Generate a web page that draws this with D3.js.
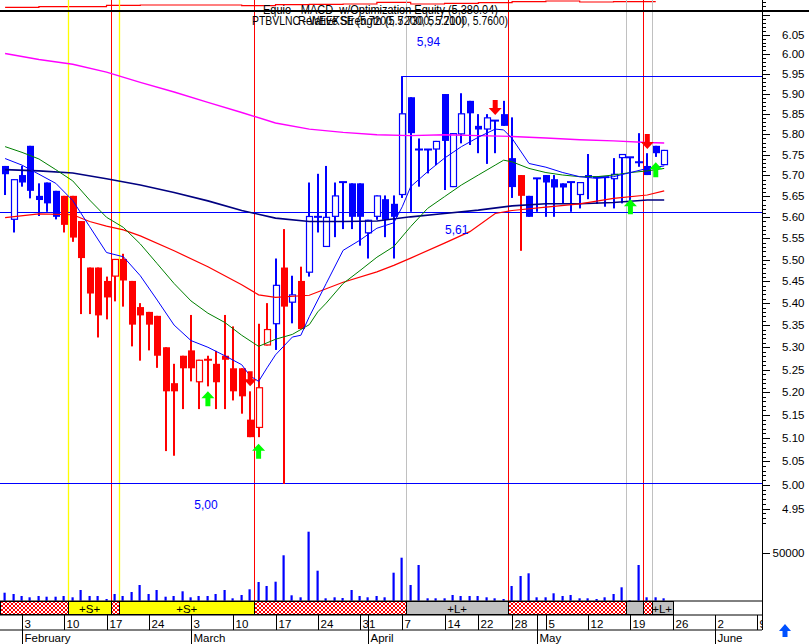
<!DOCTYPE html>
<html><head><meta charset="utf-8">
<script src="https://cdn.jsdelivr.net/npm/d3@7"></script>
<style>
html,body{margin:0;padding:0;background:#fff;}
svg{display:block;}
text{font-family:"Liberation Sans",Arial,sans-serif;}
</style>
</head><body>
<svg id="c" width="809" height="644"></svg>
<script>
// ---------------- DATA ----------------
const holidays = ["2003-04-18", "2003-04-21", "2003-05-01"];
const firstDay = [2003, 0, 30], lastDay = [2003, 5, 11];
const monthNames = ["January","February","March","April","May","June","July"];

const open  = [5.723,5.594,5.701,5.772,5.651,5.683,5.663,5.651,5.651,5.591,5.482,5.482,5.451,5.461,5.502,5.451,5.391,5.380,5.371,5.300,5.220,5.281,5.293,5.222,5.272,5.263,5.281,5.253,5.253,5.140,5.122,5.304,5.352,5.482,5.401,5.451,5.470,5.601,5.530,5.601,5.684,5.681,5.681,5.562,5.601,5.643,5.632,5.653,5.892,5.763,5.763,5.763,5.900,5.672,5.800,5.883,5.821,5.812,5.834,5.850,5.742,5.701,5.651,5.693,5.701,5.691,5.681,5.684,5.653,5.701,5.696,5.696,5.691,5.742,5.744,5.732,5.723,5.772,5.725];
const high  = [5.723,5.691,5.723,5.772,5.681,5.683,5.663,5.651,5.651,5.591,5.482,5.482,5.461,5.502,5.514,5.451,5.400,5.380,5.371,5.300,5.263,5.281,5.373,5.272,5.281,5.292,5.373,5.347,5.253,5.202,5.353,5.400,5.503,5.572,5.463,5.484,5.683,5.704,5.723,5.683,5.684,5.681,5.681,5.594,5.652,5.652,5.652,5.945,5.892,5.790,5.763,5.784,5.900,5.803,5.902,5.883,5.850,5.850,5.834,5.883,5.842,5.701,5.651,5.693,5.701,5.701,5.681,5.684,5.684,5.752,5.696,5.696,5.742,5.752,5.744,5.803,5.754,5.772,5.762];
const low   = [5.653,5.564,5.673,5.645,5.603,5.613,5.595,5.564,5.542,5.375,5.375,5.322,5.363,5.404,5.392,5.302,5.270,5.293,5.254,5.072,5.062,5.163,5.224,5.163,5.213,5.163,5.163,5.182,5.153,5.102,5.102,5.304,5.294,5.002,5.354,5.341,5.461,5.564,5.530,5.553,5.572,5.572,5.533,5.503,5.594,5.553,5.503,5.646,5.613,5.673,5.705,5.725,5.665,5.672,5.778,5.774,5.754,5.728,5.754,5.821,5.646,5.521,5.601,5.613,5.601,5.601,5.632,5.613,5.621,5.643,5.632,5.625,5.621,5.633,5.633,5.721,5.701,5.745,5.725];
const close = [5.703,5.691,5.683,5.663,5.641,5.633,5.601,5.582,5.552,5.504,5.422,5.372,5.413,5.502,5.452,5.351,5.372,5.351,5.281,5.202,5.202,5.253,5.253,5.272,5.272,5.222,5.272,5.202,5.191,5.102,5.211,5.341,5.442,5.392,5.420,5.341,5.603,5.601,5.601,5.652,5.684,5.601,5.601,5.594,5.652,5.594,5.601,5.852,5.803,5.763,5.763,5.784,5.784,5.803,5.852,5.852,5.812,5.842,5.834,5.821,5.672,5.651,5.601,5.693,5.683,5.671,5.671,5.684,5.684,5.695,5.696,5.696,5.704,5.752,5.744,5.732,5.701,5.754,5.762];
const volume = [8440,7070,4960,3590,4960,4220,4220,4960,3590,11290,4960,4960,1790,7070,4960,9180,16560,7070,11290,4220,4960,9920,3590,4960,4960,7070,11290,2530,6010,12030,19730,15510,20050,47900,5700,3590,72800,31650,2530,3590,2850,11290,4960,3590,4960,3590,29540,45370,16560,37660,2530,2530,2530,6010,4960,4960,4960,3590,2530,1790,15510,26060,28910,3590,3590,7810,4960,6010,2530,2530,1790,3590,7070,14140,740,37660,3590,3590,2530];
// bars drawn in the "short" (red) colour
const redBars = [7,8,9,10,11,12,13,14,15,16,17,18,19,20,21,22,23,24,25,26,27,28,29,30,31,33,35,61];

// moving averages: [bar index, value]
const ma200 = [[0,6.002],[4,5.987],[8,5.975],[12,5.955],[16,5.929],[20,5.905],[24,5.879],[28,5.854],[32,5.828],[36,5.813],[40,5.805],[44,5.799],[48,5.797],[52,5.799],[56,5.797],[60,5.795],[64,5.791],[68,5.787],[72,5.784],[76,5.780],[78,5.779]];
const ma50  = [[0,5.714],[4,5.711],[8,5.706],[12,5.692],[16,5.677],[20,5.659],[24,5.639],[28,5.616],[32,5.598],[36,5.590],[40,5.590],[44,5.591],[48,5.601],[52,5.609],[56,5.617],[60,5.627],[64,5.632],[68,5.632],[72,5.635],[76,5.641],[78,5.641]];
const ma30  = [[0,5.599],[4,5.608],[8,5.606],[10,5.590],[12,5.579],[14,5.570],[16,5.556],[20,5.521],[24,5.484],[28,5.442],[30,5.419],[32,5.413],[36,5.418],[40,5.448],[44,5.472],[46,5.487],[48,5.504],[52,5.539],[55,5.566],[58,5.609],[60,5.616],[64,5.624],[68,5.632],[72,5.645],[76,5.653],[78,5.663]];
const ma20  = [[0,5.770],[2,5.756],[4,5.740],[6,5.714],[8,5.687],[10,5.641],[12,5.600],[14,5.576],[16,5.537],[18,5.491],[20,5.445],[22,5.405],[24,5.377],[26,5.356],[28,5.327],[30,5.302],[32,5.318],[34,5.329],[36,5.351],[37,5.380],[38,5.400],[40,5.445],[42,5.475],[44,5.506],[46,5.531],[48,5.578],[50,5.621],[52,5.649],[54,5.677],[56,5.701],[58,5.725],[59,5.737],[60,5.733],[62,5.717],[64,5.707],[66,5.701],[68,5.697],[70,5.697],[72,5.701],[74,5.707],[76,5.711],[78,5.717]];
const ma10  = [[0,5.741],[2,5.725],[4,5.703],[6,5.681],[8,5.640],[10,5.578],[12,5.517],[14,5.507],[16,5.463],[18,5.407],[20,5.350],[22,5.315],[24,5.300],[26,5.281],[28,5.261],[29,5.236],[30,5.224],[31,5.254],[32,5.283],[34,5.323],[35,5.327],[36,5.369],[38,5.445],[40,5.522],[42,5.546],[44,5.574],[46,5.587],[47,5.625],[48,5.673],[50,5.709],[52,5.742],[54,5.770],[56,5.793],[58,5.813],[59,5.811],[60,5.790],[62,5.729],[64,5.720],[66,5.707],[68,5.697],[70,5.693],[72,5.697],[74,5.707],[76,5.717],[78,5.723]];

// optimisation equity (top strip)
const equity = [[0,5057],[4,5091],[8,5091],[12,5173],[16,5190],[20,5190],[24,5190],[28,5149],[32,5207],[36,5231],[40,5248],[44,5347],[48,5248],[52,5289],[56,5323],[60,5381],[64,5422],[68,5364],[72,5380],[77,5380]];

// study lines
const levelValues = [5.945, 5.612, 5.004];
const levelFrom   = [47, -1, -1];
const levelLabels = ["5,94", "5,61", "5,00"];

// signal arrows: [bar, tip price]
const upArrows   = [[24,5.202],[30,5.088],[74,5.643],[77,5.732]];
const downArrows = [[29,5.213],[58,5.848],[76,5.764]];

// signal vertical lines (at the start of the bar)
const yellowLines = [8, 14];
const redLines    = [13, 30, 60, 76];
const grayLines   = [48, 74, 77];

// trade state ribbon: [state, fromBar, toBar]
const ribbon = [["x",-1,8],["S",8,13],["x",13,14],["S",14,30],["x",30,48],["L",48,60],["x",60,74],["G",74,76],["x",76,77],["L",77,79.5]];

const titleEquity = "Equio - MACD_w/Optimization Equity (5,380.04)";
const titlePrice  = "PTBVLNC - WEEKSE (5.7200, 5.7300, 5.7100, 5.7600)";
const titleRS     = "Relative Strength (5.7200, 5.7200)";

// ---------------- BUILD ----------------
const days = [];
for (let d = new Date(Date.UTC(...firstDay)); d <= new Date(Date.UTC(...lastDay)); d.setUTCDate(d.getUTCDate() + 1)) {
  const wd = d.getUTCDay(), s = d.toISOString().slice(0, 10);
  if (wd > 0 && wd < 6 && !holidays.includes(s)) days.push(new Date(d));
}

const W = 809, H = 644, AX = 762;
const svg = d3.select("#c");
svg.append("rect").attr("width", W).attr("height", H).attr("fill", "#fff");

const x = d3.scaleLinear().domain([0, 89]).range([5.1, 757.15]);
const y = d3.scaleLog().domain([4.762, 6.1397]).range([600, 0]);
const yv = d3.scaleLinear().domain([0, 50000]).range([600.7, 553.3]);
const ye = d3.scaleLinear().domain([4900, 5480]).range([10, 0]);
const edge = k => Math.max(0, x(k - 0.5));

const defs = svg.append("defs");
defs.append("clipPath").attr("id", "plot").append("rect").attr("x", 0).attr("y", 0).attr("width", AX).attr("height", 601);
defs.append("clipPath").attr("id", "axisrow").append("rect").attr("x", 0).attr("y", 600).attr("width", AX).attr("height", 44);
const pat = defs.append("pattern").attr("id", "hatch").attr("width", 4).attr("height", 4).attr("patternUnits", "userSpaceOnUse");
pat.append("rect").attr("width", 4).attr("height", 4).attr("fill", "#fff");
[[0,0],[1,1],[2,2],[3,3],[3,0],[2,1],[1,2],[0,3]].forEach(p =>
  pat.append("rect").attr("x", p[0]).attr("y", p[1]).attr("width", 1).attr("height", 1).attr("fill", "#ff0000"));

const plot = svg.append("g").attr("clip-path", "url(#plot)");

// equity strip
plot.append("path").datum(equity)
  .attr("d", d3.line().x(d => x(d[0])).y(d => ye(d[1])).curve(d3.curveStepAfter))
  .attr("fill", "none").attr("stroke", "#ff0000").attr("stroke-width", 1.2);

// signal verticals
const vline = (arr, col, w) => plot.selectAll(null).data(arr).enter().append("line")
  .attr("x1", d => Math.round(edge(d)) + 0.5).attr("x2", d => Math.round(edge(d)) + 0.5)
  .attr("y1", 0).attr("y2", 601).attr("stroke", col).attr("stroke-width", w);
vline(grayLines, "#c0c0c0", 1);
vline(yellowLines, "#ffff00", 1.3);
vline(redLines, "#ff0000", 1);

// black separator
svg.append("rect").attr("x", 0).attr("y", 10).attr("width", W).attr("height", 2).attr("fill", "#000");

// study lines
levelValues.forEach((v, i) => {
  const yy = Math.round(y(v)) + 0.5;
  const x0 = levelFrom[i] < 0 ? 0 : x(levelFrom[i]);
  plot.append("line").attr("x1", x0).attr("x2", AX).attr("y1", yy).attr("y2", yy)
    .attr("stroke", "#0000ff").attr("stroke-width", 1);
});
const labelPos = [[428.5, 45.5], [456.7, 233.5], [206, 509]];
levelLabels.forEach((t, i) => svg.append("text").attr("x", labelPos[i][0]).attr("y", labelPos[i][1])
  .attr("text-anchor", "middle").attr("font-size", 12).attr("fill", "#0000ff").text(t));

// candles
const bars = d3.range(open.length);
const cg = plot.append("g");
bars.forEach(i => {
  const col = redBars.includes(i) ? "#ff0000" : "#0000ff";
  const xr = Math.round(x(i));
  const o = open[i], c = close[i];
  cg.append("rect").attr("x", xr - 1).attr("width", 2)
    .attr("y", y(high[i])).attr("height", Math.max(1, y(low[i]) - y(high[i]))).attr("fill", col);
  const top = y(Math.max(o, c)), bot = y(Math.min(o, c));
  if (bot - top < 1.5) {
    cg.append("rect").attr("x", xr - 4).attr("width", 8).attr("y", top - 1).attr("height", 2).attr("fill", col);
  } else if (c < o) {
    cg.append("rect").attr("x", xr - 3).attr("width", 7).attr("y", top).attr("height", bot - top).attr("fill", col);
  } else {
    cg.append("rect").attr("x", xr - 2.5).attr("width", 6).attr("y", top + 0.5).attr("height", bot - top - 1)
      .attr("fill", "#fff").attr("stroke", col).attr("stroke-width", 1.2);
  }
});

// moving averages
const line = d3.line().x(d => x(d[0])).y(d => y(d[1]));
[[ma200, "#ff00ff", 1.4], [ma50, "#000080", 1.6], [ma30, "#ff0000", 1.2], [ma20, "#008000", 1], [ma10, "#0000ff", 1]]
  .forEach(([s, col, w]) => plot.append("path").datum(s).attr("d", line)
    .attr("fill", "none").attr("stroke", col).attr("stroke-width", w));

// arrows
const upPath = "M0,0 L6.5,7 L2.5,7 L2.5,15 L-2.5,15 L-2.5,7 L-6.5,7 Z";
upArrows.forEach(([b, p]) => plot.append("path").attr("d", upPath)
  .attr("transform", `translate(${x(b)},${y(p)})`).attr("fill", "#00ff00"));
downArrows.forEach(([b, p]) => plot.append("path").attr("d", upPath)
  .attr("transform", `translate(${x(b)},${y(p)}) scale(1,-1)`).attr("fill", "#ff0000"));

// volume
plot.selectAll(null).data(bars).enter().append("rect")
  .attr("x", i => Math.round(x(i)) - 1.5).attr("width", 2.2)
  .attr("y", i => yv(volume[i])).attr("height", i => yv(0) - yv(volume[i])).attr("fill", "#0000ff");

// ribbon
const rg = svg.append("g");
ribbon.forEach(([st, a, b]) => {
  const x0 = edge(a), x1 = edge(b);
  const fill = st === "x" ? "url(#hatch)" : st === "S" ? "#ffff00" : "#c0c0c0";
  rg.append("rect").attr("x", Math.round(x0) + 0.5).attr("y", 601.5).attr("width", Math.round(x1) - Math.round(x0))
    .attr("height", 13).attr("fill", fill).attr("stroke", "#000").attr("stroke-width", 1);
  if (st === "S" || st === "L") {
    rg.append("text").attr("x", (x0 + x1) / 2).attr("y", 612.5).attr("text-anchor", "middle")
      .attr("font-size", 11.5).attr("fill", "#000").text(st === "S" ? "+S+" : "+L+");
  }
});
svg.append("line").attr("x1", 0).attr("x2", AX).attr("y1", 601).attr("y2", 601).attr("stroke", "#000");
svg.append("line").attr("x1", 0).attr("x2", AX).attr("y1", 615).attr("y2", 615).attr("stroke", "#000");
svg.append("line").attr("x1", 0).attr("x2", AX).attr("y1", 630).attr("y2", 630).attr("stroke", "#000");

// date axis
const dg = svg.append("g").attr("clip-path", "url(#axisrow)");
days.forEach((d, i) => {
  if (i === 0) return;
  const prev = days[i - 1];
  const xt = Math.round(x(i)) + 0.5;
  const newWeek = d.getUTCDay() <= prev.getUTCDay() || (d - prev) > 3 * 864e5;
  const newMonth = d.getUTCMonth() !== prev.getUTCMonth();
  if (newWeek) {
    dg.append("line").attr("x1", xt).attr("x2", xt).attr("y1", 615).attr("y2", 630).attr("stroke", "#000");
    dg.append("text").attr("x", xt + 2).attr("y", 627.5).attr("font-size", 11.5).attr("fill", "#000").text(d.getUTCDate());
  }
  if (newMonth) {
    dg.append("line").attr("x1", xt).attr("x2", xt).attr("y1", newWeek ? 630 : 615).attr("y2", 644).attr("stroke", "#000");
    dg.append("text").attr("x", xt + 2).attr("y", 642).attr("font-size", 11.5).attr("fill", "#000").text(monthNames[d.getUTCMonth()]);
  }
});

// right axis
svg.append("line").attr("x1", AX + 0.5).attr("x2", AX + 0.5).attr("y1", 0).attr("y2", 630).attr("stroke", "#000");
const tickCents = d3.range(492, 611);
tickCents.forEach(cents => {
  const v = cents / 100;
  const major = cents % 5 === 0;
  const yy = Math.round(y(v)) + 0.5;
  svg.append("line").attr("x1", AX).attr("x2", AX + (major ? 8 : 4)).attr("y1", yy).attr("y2", yy).attr("stroke", "#000");
  if (major && cents >= 495 && cents <= 605)
    svg.append("text").attr("x", 804.5).attr("y", y(v) + 4).attr("text-anchor", "end")
      .attr("font-size", 11.5).attr("fill", "#000").text(d3.format(".2f")(v));
});
const y50 = Math.round(yv(50000)) + 0.5;
svg.append("line").attr("x1", AX).attr("x2", AX + 8).attr("y1", y50).attr("y2", y50).attr("stroke", "#000");
svg.append("text").attr("x", 804.5).attr("y", yv(50000) + 4).attr("text-anchor", "end")
  .attr("font-size", 11.5).attr("fill", "#000").text("50000");
[2.5, 6.5].forEach(yy => svg.append("line").attr("x1", AX).attr("x2", AX + 4).attr("y1", yy).attr("y2", yy).attr("stroke", "#000"));

// scroll arrow
svg.append("path").attr("d", "M785,624 L791,631 L787.5,631 L787.5,637 L782.5,637 L782.5,631 L779,631 Z").attr("fill", "#0050ff");

// titles (overlapping, as in the original)
svg.append("text").attr("x", 263).attr("y", 14).attr("font-size", 12).attr("fill", "#000")
  .attr("textLength", 235).attr("lengthAdjust", "spacingAndGlyphs").text(titleEquity);
svg.append("text").attr("x", 252).attr("y", 24.5).attr("font-size", 12).attr("fill", "#000")
  .attr("textLength", 256).attr("lengthAdjust", "spacingAndGlyphs").text(titlePrice);
svg.append("text").attr("x", 298).attr("y", 24.5).attr("font-size", 12).attr("fill", "#000")
  .attr("textLength", 167).attr("lengthAdjust", "spacingAndGlyphs").text(titleRS);
</script>
</body></html>
